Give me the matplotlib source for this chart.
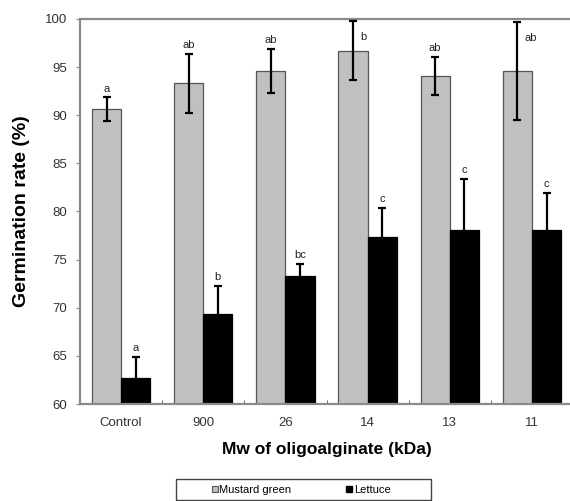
import matplotlib
matplotlib.use('Agg')
import matplotlib.pyplot as plt
import numpy as np
from matplotlib.lines import Line2D
from matplotlib.patches import Rectangle

# data
categories = ['Control', '900', '26', '14', '13', '11']
mustard = [90.6, 93.3, 94.6, 96.7, 94.1, 94.6]
mustard_err = [1.25, 3.05, 2.3, 3.05, 2.0, 5.05]
mustard_sig = ['a', 'ab', 'ab', 'b', 'ab', 'ab']
lettuce = [62.7, 69.3, 73.3, 77.4, 78.1, 78.1]
lettuce_err = [2.2, 3.0, 1.25, 3.0, 5.3, 3.8]
lettuce_sig = ['a', 'b', 'bc', 'c', 'c', 'c']
# letters that sit beside the error bar instead of above it
side_labels = [3, 5]

plt.rcParams['font.family'] = ['Liberation Sans', 'DejaVu Sans']

fig = plt.figure(figsize=(5.70, 5.01), dpi=100)
ax = fig.add_axes([0.1404, 0.1936, 0.865, 0.7685])

x = np.arange(len(categories))
w = 0.355
gray = '#c0c0c0'
spine_col = '#8a8a8a'

ax.bar(x - w / 2, mustard, w, color=gray, edgecolor='#555555',
       linewidth=0.9, zorder=2)
ax.bar(x + w / 2, lettuce, w, color='black', edgecolor='black',
       linewidth=0.9, zorder=2)
ax.errorbar(x - w / 2, mustard, yerr=mustard_err, fmt='none', ecolor='black',
            elinewidth=1.6, capsize=3, capthick=1.6, zorder=3)
ax.errorbar(x + w / 2, lettuce, yerr=lettuce_err, fmt='none', ecolor='black',
            elinewidth=1.6, capsize=3, capthick=1.6, zorder=3)

for i in range(len(categories)):
    top = mustard[i] + mustard_err[i]
    if i in side_labels:
        ax.text(x[i] - w / 2 + 0.09, top - 1.6, mustard_sig[i], fontsize=8,
                ha='left', va='center', color='#222222')
    else:
        ax.text(x[i] - w / 2, top + 0.4, mustard_sig[i], fontsize=8,
                ha='center', va='bottom', color='#222222')
    ltop = lettuce[i] + lettuce_err[i]
    ax.text(x[i] + w / 2, ltop + 0.4, lettuce_sig[i], fontsize=8,
            ha='center', va='bottom', color='#222222')

ax.set_xlim(-0.5, 5.5)
ax.set_ylim(60, 100)
ax.set_yticks(np.arange(60, 101, 5))
ax.set_xticks(x)
ax.set_xticklabels(categories)
ax.set_xticks(np.arange(0.5, 5.0, 1.0), minor=True)
ax.tick_params(axis='x', which='major', length=0, pad=9, labelsize=9.5,
               labelcolor='#333333')
ax.tick_params(axis='x', which='minor', direction='in', length=3,
               color='#555555')
ax.tick_params(axis='y', direction='out', length=3, color=spine_col,
               labelsize=9.5, labelcolor='#333333', pad=6)

for side in ['left', 'bottom', 'top', 'right']:
    ax.spines[side].set_color(spine_col)
    ax.spines[side].set_linewidth(1.6)

ax.set_ylabel('Germination rate (%)', fontsize=14, fontweight='bold',
              labelpad=11)
ax.set_xlabel('Mw of oligoalginate (kDa)', fontsize=12.5, fontweight='bold',
              labelpad=10)

handles = [
    Line2D([], [], marker='s', linestyle='none', markersize=5,
           markerfacecolor=gray, markeredgecolor='#555555', markeredgewidth=0.8),
    Line2D([], [], marker='s', linestyle='none', markersize=5,
           markerfacecolor='black', markeredgecolor='black'),
]
leg = fig.legend(handles, ['Mustard green', 'Lettuce'], ncol=2,
                 loc='center', bbox_to_anchor=(0.528, 0.022), fontsize=8,
                 frameon=False, handlelength=0.6, handletextpad=0.1,
                 columnspacing=4.9, borderpad=0, borderaxespad=0)

# legend frame drawn separately: roughly x=176..431 px, y=479..500 px
fig.add_artist(Rectangle((176 / 570, 1 / 501), 255 / 570, 21 / 501,
                         transform=fig.transFigure, fill=False,
                         edgecolor='#444444', linewidth=1.0))

fig.savefig('out.png', dpi=100)
